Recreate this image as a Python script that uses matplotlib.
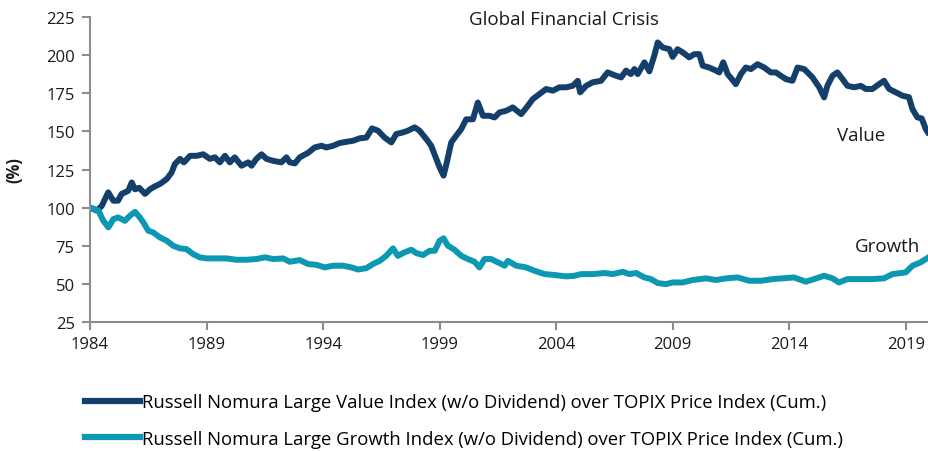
import matplotlib

matplotlib.use("Agg")
import matplotlib.pyplot as plt
from matplotlib.lines import Line2D

# Cumulative relative performance vs TOPIX (%)
value_years = [
    1984.0, 1984.29, 1984.5, 1984.78, 1985.0, 1985.2, 1985.36, 1985.64, 1985.79, 1985.93,
    1986.11, 1986.36, 1986.57, 1986.79, 1987.0, 1987.29, 1987.5, 1987.64, 1987.86, 1988.03,
    1988.29, 1988.57, 1988.86, 1989.14, 1989.36, 1989.57, 1989.79, 1990.0, 1990.21, 1990.5,
    1990.79, 1990.93, 1991.14, 1991.36, 1991.57, 1991.86, 1992.21, 1992.43, 1992.57, 1992.79,
    1993.0, 1993.36, 1993.64, 1993.93, 1994.14, 1994.43, 1994.71, 1995.0, 1995.29, 1995.57,
    1995.86, 1996.1, 1996.36, 1996.64, 1996.93, 1997.14, 1997.43, 1997.64, 1997.93, 1998.14,
    1998.43, 1998.64, 1998.86, 1999.0, 1999.17, 1999.31, 1999.5, 1999.71, 1999.93, 2000.14,
    2000.43, 2000.64, 2000.86, 2001.14, 2001.36, 2001.57, 2001.86, 2002.14, 2002.5, 2002.79,
    2003.0, 2003.29, 2003.57, 2003.86, 2004.14, 2004.43, 2004.71, 2004.93, 2005.03, 2005.29,
    2005.57, 2005.93, 2006.21, 2006.5, 2006.79, 2007.0, 2007.21, 2007.36, 2007.5, 2007.79,
    2008.0, 2008.21, 2008.36, 2008.57, 2008.86, 2009.0, 2009.21, 2009.43, 2009.71, 2009.93,
    2010.14, 2010.29, 2010.57, 2010.86, 2011.0, 2011.17, 2011.36, 2011.54, 2011.71, 2011.93,
    2012.14, 2012.36, 2012.64, 2012.93, 2013.21, 2013.43, 2013.64, 2013.86, 2014.14, 2014.36,
    2014.64, 2014.79, 2015.0, 2015.29, 2015.5, 2015.64, 2015.86, 2016.07, 2016.29, 2016.5,
    2016.79, 2017.07, 2017.29, 2017.57, 2017.86, 2018.07, 2018.29, 2018.57, 2018.86, 2019.14,
    2019.29, 2019.5, 2019.69, 2019.86, 2019.95,
]
value_pct = [
    100, 98, 101, 110, 104.5, 104.5, 109, 111, 116.5, 112,
    113, 109, 112, 114, 115.5, 118.7, 123, 128.6, 132, 129.7,
    134, 134, 135, 132, 133, 129.7, 134, 129.7, 133, 127.5,
    129.7, 127.5, 132, 135, 132, 130.7, 129.7, 133, 129.7, 129,
    133, 136, 139.5, 140.6, 139.5, 140.6, 142.4, 143.2, 143.9, 145.5,
    146, 152, 150.5, 146, 142.8, 148.3, 149.4, 150.5, 152.7, 150.5,
    145, 140.6, 131.9, 126.4, 121, 129.7, 142.8, 147.2, 151.6, 158,
    158, 169, 160.3, 160.3, 159.2, 162.5, 163.6, 165.8, 161.4, 166.9,
    171.3, 174.6, 177.9, 176.8, 179, 179, 180, 183.3, 175.7, 180,
    182.3, 183.3, 188.8, 187, 185.5, 190, 187.7, 191, 187.7, 195.4,
    189.5, 199.7, 208.5, 205.2, 204.1, 199, 204, 202, 198.7, 200.8,
    200.8, 193.2, 192, 190, 188.8, 195.4, 187.7, 184.4, 181.1, 187.7,
    192, 191, 194.2, 192, 188.8, 188.8, 186.6, 184.4, 183.3, 192,
    191, 188.8, 185.5, 179, 172.4, 180, 186.6, 188.8, 184.4, 180,
    179, 180, 177.9, 177.9, 181.1, 183.3, 177.9, 175.7, 173.5, 172.5,
    164.7, 159.3, 158.5, 151.6, 149.5,
]

growth_years = [
    1984.0, 1984.36, 1984.57, 1984.79, 1985.0, 1985.21, 1985.5, 1985.71, 1985.93, 1986.14,
    1986.29, 1986.5, 1986.71, 1987.0, 1987.29, 1987.57, 1987.86, 1988.14, 1988.43, 1988.71,
    1989.0, 1989.43, 1989.86, 1990.29, 1990.71, 1991.14, 1991.5, 1991.86, 1992.29, 1992.57,
    1993.0, 1993.36, 1993.71, 1994.07, 1994.43, 1994.86, 1995.21, 1995.5, 1995.86, 1996.14,
    1996.43, 1996.71, 1997.0, 1997.21, 1997.5, 1997.79, 1998.0, 1998.29, 1998.57, 1998.79,
    1999.0, 1999.17, 1999.36, 1999.64, 1999.93, 2000.21, 2000.5, 2000.71, 2000.93, 2001.21,
    2001.5, 2001.79, 2001.93, 2002.29, 2002.71, 2003.07, 2003.5, 2003.93, 2004.43, 2004.79,
    2005.07, 2005.57, 2006.07, 2006.43, 2006.86, 2007.14, 2007.43, 2007.79, 2008.07, 2008.36,
    2008.71, 2009.0, 2009.43, 2009.86, 2010.43, 2010.86, 2011.29, 2011.79, 2012.29, 2012.79,
    2013.29, 2013.71, 2014.21, 2014.71, 2015.07, 2015.5, 2015.86, 2016.14, 2016.5, 2017.0,
    2017.57, 2018.07, 2018.43, 2019.0, 2019.29, 2019.64, 2019.95,
]
growth_pct = [
    100, 98, 91.3, 87, 92.4, 93.5, 91.3, 94.6, 97.2, 93.5,
    90.2, 84.8, 83.7, 80.4, 78.2, 74.9, 73.2, 72.7, 69.4, 67.3,
    66.6, 66.6, 66.6, 65.7, 65.7, 66.2, 67.3, 66.2, 66.6, 64.4,
    65.5, 62.9, 62.4, 60.7, 61.8, 61.8, 60.7, 59.3, 60.2, 62.9,
    65, 68.3, 73.2, 68.3, 70.6, 72.3, 70.1, 68.8, 71.6, 71.6,
    78.2, 79.8, 74.9, 72.3, 68.3, 66.2, 64.4, 60.7, 66.2, 66.2,
    64, 61.8, 65, 61.8, 60.7, 58.5, 56.3, 55.7, 54.8, 55.2,
    56.3, 56.3, 57, 56.3, 57.8, 56.3, 57, 54.1, 53, 50.4,
    49.7, 50.8, 50.8, 52.4, 53.5, 52.4, 53.5, 54.1, 51.9, 51.9,
    53, 53.5, 54.1, 51.3, 53, 55.2, 53.5, 50.8, 53, 53,
    53, 53.5, 56.3, 57.4, 61.8, 64, 67,
]

year_ticks = [1984, 1989, 1994, 1999, 2004, 2009, 2014, 2019]
pct_ticks = [25, 50, 75, 100, 125, 150, 175, 200, 225]

VALUE_LABEL = "Russell Nomura Large Value Index (w/o Dividend) over TOPIX Price Index (Cum.)"
GROWTH_LABEL = "Russell Nomura Large Growth Index (w/o Dividend) over TOPIX Price Index (Cum.)"

COLOR_VALUE = "#143F6B"
COLOR_GROWTH = "#0C98B2"
COLOR_AXIS = "#8C8C8C"
COLOR_TEXT = "#1A1A1A"

plt.rcParams["font.family"] = ["Open Sans", "DejaVu Sans"]

fig = plt.figure(figsize=(9.29, 4.52), dpi=100)
ax = fig.add_axes([0.0969, 0.286, 0.9031, 0.6735])

ax.plot(value_years, value_pct, color=COLOR_VALUE, lw=4.3, solid_joinstyle="round")
ax.plot(growth_years, growth_pct, color=COLOR_GROWTH, lw=4.3, solid_joinstyle="round")

ax.set_xlim(1984, 2020.0)
ax.set_ylim(25, 225)
ax.set_xticks(year_ticks)
ax.set_yticks(pct_ticks)

for side in ("top", "right"):
    ax.spines[side].set_visible(False)
for side in ("left", "bottom"):
    ax.spines[side].set_color(COLOR_AXIS)
    ax.spines[side].set_linewidth(1.5)
ax.tick_params(colors=COLOR_AXIS, labelcolor=COLOR_TEXT, labelsize=12,
               length=6, width=1.5, direction="out")
ax.tick_params(axis="x", pad=4)
ax.tick_params(axis="y", pad=5)

ax.set_ylabel("(%)", fontsize=12, fontweight="bold", color=COLOR_TEXT, labelpad=16)

ax.text(2004.35, 224, "Global Financial Crisis", ha="center", va="center",
        fontsize=13.5, color=COLOR_TEXT)
ax.text(2016.05, 148, "Value", ha="left", va="center", fontsize=13.5, color=COLOR_TEXT)
ax.text(2016.8, 74.5, "Growth", ha="left", va="center", fontsize=13.5, color=COLOR_TEXT)

handles = [Line2D([], [], color=COLOR_VALUE, lw=4.5),
           Line2D([], [], color=COLOR_GROWTH, lw=4.5)]
fig.legend(handles, [VALUE_LABEL, GROWTH_LABEL], loc="center left",
           bbox_to_anchor=(0.0915, 0.0675), bbox_transform=fig.transFigure,
           frameon=False, fontsize=13.3, handlelength=2.97, handletextpad=0.1,
           labelspacing=1.0, borderaxespad=0, borderpad=0)

fig.savefig("out.png", dpi=100, facecolor="white")
